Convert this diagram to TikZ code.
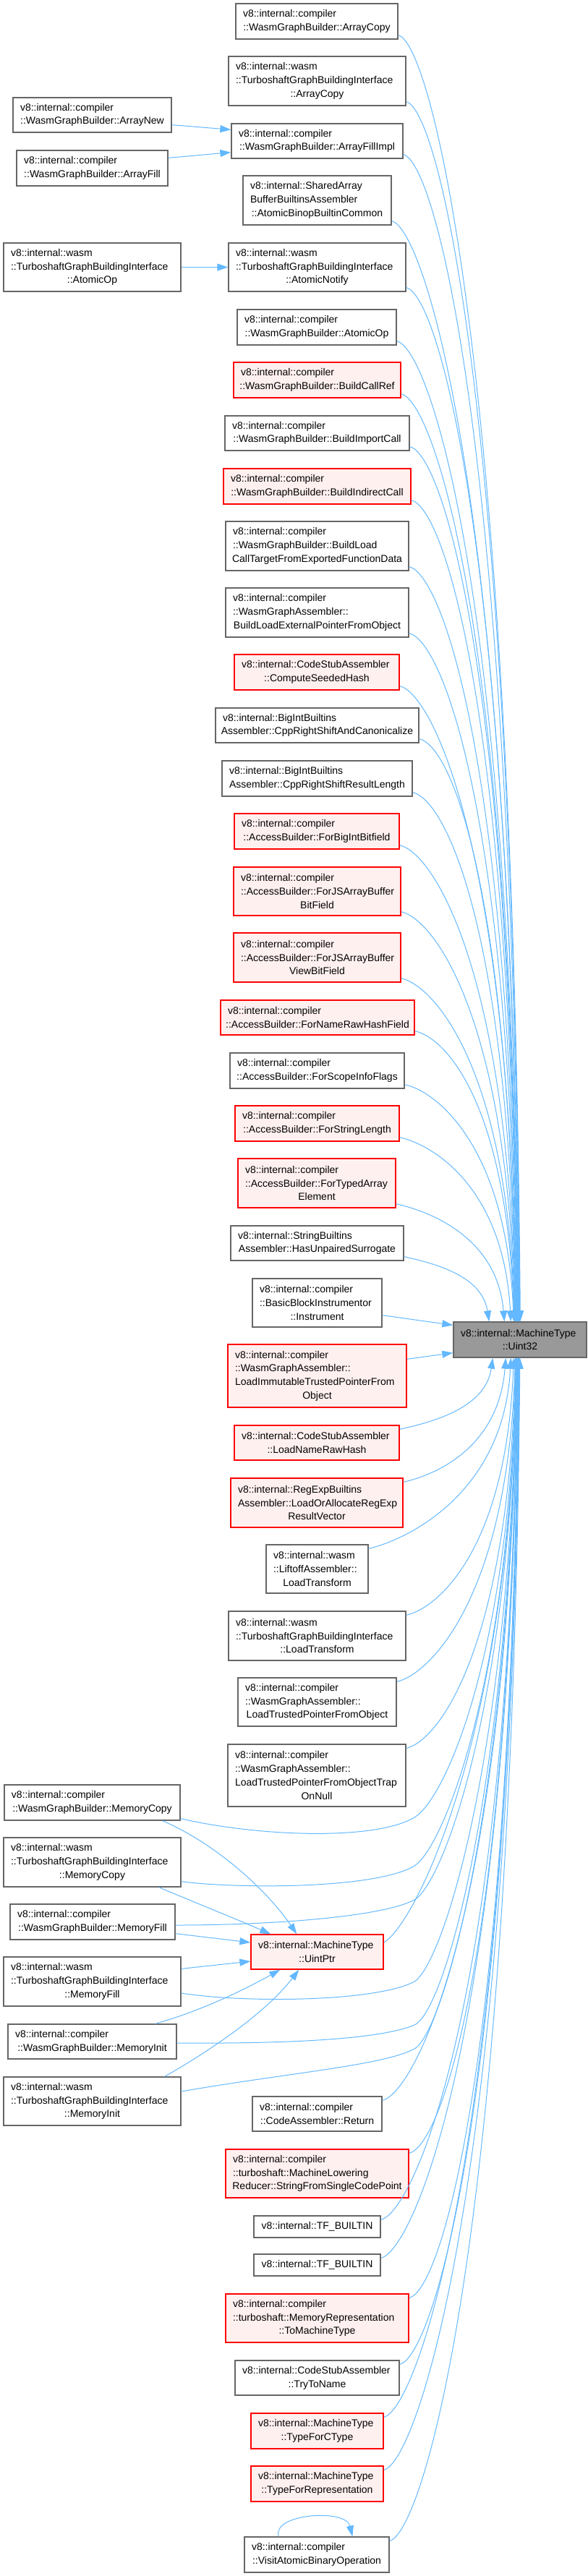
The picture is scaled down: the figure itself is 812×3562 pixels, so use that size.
\documentclass[tikz,border=0pt]{standalone}
\usepackage{fontspec}
\setmainfont{Liberation Sans}
\usetikzlibrary{calc,arrows.meta}

\definecolor{edgeblue}{HTML}{63B8FF}
\definecolor{boxgrey}{HTML}{666666}
\definecolor{rootfill}{HTML}{999999}
\definecolor{redfill}{HTML}{FFF0F0}

\tikzset{
 nbox/.style={draw=boxgrey, fill=white, line width=1.3pt, inner xsep=10pt, inner ysep=1pt,
   align=left, font=\fontsize{14pt}{18.7pt}\selectfont, anchor=center},
 rbox/.style={nbox, draw=red, fill=redfill},
 gbox/.style={nbox, fill=rootfill},
 conn/.style={draw=edgeblue, line width=1pt, -{Triangle[length=15pt,width=10pt]}},
}

\newcommand\lastln[1]{\noindent\makebox[\hsize][c]{#1}}
\newcommand\bx[8]{\node[#1,minimum width=#5pt,text width=#6pt,minimum height=#7pt] (#2) at (#3,#4) {#8};}
\newcommand\eup[2]{\draw[conn] let \p1=(#1.south east), \p2=($(u32.north west)+(#2,0)$) in
  (\x1,\y1+6pt) .. controls (\x1+45pt,\y1-4pt) and (\x2-10pt,{\y1+0.25*(\y2-\y1)}) .. (\x2,\y2);}
\newcommand\edown[2]{\draw[conn] let \p1=(#1.north east), \p2=($(u32.south west)+(#2,0)$) in
  (\x1,\y1-6pt) .. controls (\x1+45pt,\y1+4pt) and (\x2-10pt,{\y1+0.25*(\y2-\y1)}) .. (\x2,\y2);}

\begin{document}
\begin{tikzpicture}[x=1pt,y=-1pt]
\useasboundingbox (0,0) rectangle (812,3562);

\bx{nbox}{n1}{438}{29.5}{224}{204}{49}{v8::internal::compiler\\\lastln{::WasmGraphBuilder::ArrayCopy}}
\bx{nbox}{n2}{438.5}{112}{245}{225}{68}{v8::internal::wasm\\::TurboshaftGraphBuildingInterface\\\lastln{::ArrayCopy}}
\bx{nbox}{n3}{127.5}{159}{219}{199}{48}{v8::internal::compiler\\\lastln{::WasmGraphBuilder::ArrayNew}}
\bx{nbox}{n4}{438.5}{195}{237}{217}{48}{v8::internal::compiler\\\lastln{::WasmGraphBuilder::ArrayFillImpl}}
\bx{nbox}{n5}{127.5}{232.5}{209}{189}{49}{v8::internal::compiler\\\lastln{::WasmGraphBuilder::ArrayFill}}
\bx{nbox}{n6}{438.5}{277}{205}{185}{68}{v8::internal::SharedArray\\BufferBuiltinsAssembler\\\lastln{::AtomicBinopBuiltinCommon}}
\bx{nbox}{n7}{127.5}{369.5}{245}{225}{67}{v8::internal::wasm\\::TurboshaftGraphBuildingInterface\\\lastln{::AtomicOp}}
\bx{nbox}{n8}{438.5}{369.5}{245}{225}{67}{v8::internal::wasm\\::TurboshaftGraphBuildingInterface\\\lastln{::AtomicNotify}}
\bx{nbox}{n9}{438}{452.5}{220}{200}{49}{v8::internal::compiler\\\lastln{::WasmGraphBuilder::AtomicOp}}
\bx{rbox}{n10}{438.5}{525.5}{231}{211}{49}{v8::internal::compiler\\\lastln{::WasmGraphBuilder::BuildCallRef}}
\bx{nbox}{n11}{438.5}{599}{255}{235}{48}{v8::internal::compiler\\\lastln{::WasmGraphBuilder::BuildImportCall}}
\bx{rbox}{n12}{438.5}{672.5}{259}{239}{49}{v8::internal::compiler\\\lastln{::WasmGraphBuilder::BuildIndirectCall}}
\bx{nbox}{n13}{438.5}{755}{253}{233}{68}{v8::internal::compiler\\::WasmGraphBuilder::BuildLoad\\\lastln{CallTargetFromExportedFunctionData}}
\bx{nbox}{n14}{438.5}{847}{253}{233}{68}{v8::internal::compiler\\::WasmGraphAssembler::\\\lastln{BuildLoadExternalPointerFromObject}}
\bx{rbox}{n15}{438}{929.5}{228}{208}{49}{v8::internal::CodeStubAssembler\\\lastln{::ComputeSeededHash}}
\bx{nbox}{n16}{438.5}{1003}{281}{261}{48}{v8::internal::BigIntBuiltins\\\lastln{Assembler::CppRightShiftAndCanonicalize}}
\bx{nbox}{n17}{438.5}{1076.5}{263}{243}{49}{v8::internal::BigIntBuiltins\\\lastln{Assembler::CppRightShiftResultLength}}
\bx{rbox}{n18}{438}{1149.5}{228}{208}{49}{v8::internal::compiler\\\lastln{::AccessBuilder::ForBigIntBitfield}}
\bx{rbox}{n19}{438.5}{1232.5}{231}{211}{67}{v8::internal::compiler\\::AccessBuilder::ForJSArrayBuffer\\\lastln{BitField}}
\bx{rbox}{n20}{438.5}{1324}{231}{211}{68}{v8::internal::compiler\\::AccessBuilder::ForJSArrayBuffer\\\lastln{ViewBitField}}
\bx{rbox}{n21}{439}{1407}{268}{248}{48}{v8::internal::compiler\\\lastln{::AccessBuilder::ForNameRawHashField}}
\bx{nbox}{n22}{438.5}{1480.5}{241}{221}{49}{v8::internal::compiler\\\lastln{::AccessBuilder::ForScopeInfoFlags}}
\bx{rbox}{n23}{438.5}{1553.5}{227}{207}{49}{v8::internal::compiler\\\lastln{::AccessBuilder::ForStringLength}}
\bx{rbox}{n24}{438}{1636}{218}{198}{68}{v8::internal::compiler\\::AccessBuilder::ForTypedArray\\\lastln{Element}}
\bx{nbox}{n25}{438.5}{1719}{239}{219}{48}{v8::internal::StringBuiltins\\\lastln{Assembler::HasUnpairedSurrogate}}
\bx{nbox}{n26}{438.5}{1801.5}{179}{159}{67}{v8::internal::compiler\\::BasicBlockInstrumentor\\\lastln{::Instrument}}
\bx{gbox}{u32}{719}{1852.5}{184}{164}{49}{v8::internal::MachineType\\\lastln{::Uint32}}
\bx{rbox}{n28}{438.5}{1902.5}{247}{227}{87}{v8::internal::compiler\\::WasmGraphAssembler::\\LoadImmutableTrustedPointerFrom\\\lastln{Object}}
\bx{rbox}{n29}{438}{1995}{228}{208}{48}{v8::internal::CodeStubAssembler\\\lastln{::LoadNameRawHash}}
\bx{rbox}{n30}{438}{2078}{238}{218}{68}{v8::internal::RegExpBuiltins\\Assembler::LoadOrAllocateRegExp\\\lastln{ResultVector}}
\bx{nbox}{n31}{438.5}{2169.5}{141}{121}{67}{v8::internal::wasm\\::LiftoffAssembler::\\\lastln{LoadTransform}}
\bx{nbox}{n32}{438.5}{2262}{245}{225}{68}{v8::internal::wasm\\::TurboshaftGraphBuildingInterface\\\lastln{::LoadTransform}}
\bx{nbox}{n33}{438.5}{2353.5}{219}{199}{67}{v8::internal::compiler\\::WasmGraphAssembler::\\\lastln{LoadTrustedPointerFromObject}}
\bx{nbox}{n34}{438}{2455}{246}{226}{86}{v8::internal::compiler\\::WasmGraphAssembler::\\LoadTrustedPointerFromObjectTrap\\\lastln{OnNull}}
\bx{nbox}{n35}{127.5}{2492.5}{243}{223}{49}{v8::internal::compiler\\\lastln{::WasmGraphBuilder::MemoryCopy}}
\bx{nbox}{n36}{127.5}{2575}{245}{225}{68}{v8::internal::wasm\\::TurboshaftGraphBuildingInterface\\\lastln{::MemoryCopy}}
\bx{nbox}{n37}{128}{2657.5}{228}{208}{49}{v8::internal::compiler\\\lastln{::WasmGraphBuilder::MemoryFill}}
\bx{rbox}{n38}{438.5}{2699}{183}{163}{48}{v8::internal::MachineType\\\lastln{::UintPtr}}
\bx{nbox}{n39}{127.5}{2740}{245}{225}{68}{v8::internal::wasm\\::TurboshaftGraphBuildingInterface\\\lastln{::MemoryFill}}
\bx{nbox}{n40}{127.5}{2823}{233}{213}{48}{v8::internal::compiler\\\lastln{::WasmGraphBuilder::MemoryInit}}
\bx{nbox}{n41}{127.5}{2905.5}{245}{225}{67}{v8::internal::wasm\\::TurboshaftGraphBuildingInterface\\\lastln{::MemoryInit}}
\bx{nbox}{n42}{438.5}{2923}{179}{159}{48}{v8::internal::compiler\\\lastln{::CodeAssembler::Return}}
\bx{rbox}{n43}{438.5}{3005.5}{253}{233}{67}{v8::internal::compiler\\::turboshaft::MachineLowering\\\lastln{Reducer::StringFromSingleCodePoint}}
\bx{nbox}{n44}{438.5}{3079}{175}{155}{30}{\lastln{v8::internal::TF\_BUILTIN}}
\bx{nbox}{n45}{438.5}{3132}{175}{155}{30}{\lastln{v8::internal::TF\_BUILTIN}}
\bx{rbox}{n46}{438.5}{3205.5}{253}{233}{67}{v8::internal::compiler\\::turboshaft::MemoryRepresentation\\\lastln{::ToMachineType}}
\bx{nbox}{n47}{438.5}{3288}{227}{207}{48}{v8::internal::CodeStubAssembler\\\lastln{::TryToName}}
\bx{rbox}{n48}{438.5}{3361.5}{183}{163}{49}{v8::internal::MachineType\\\lastln{::TypeForCType}}
\bx{rbox}{n49}{438.5}{3434.5}{183}{163}{49}{v8::internal::MachineType\\\lastln{::TypeForRepresentation}}
\bx{nbox}{n50}{438}{3532.5}{200}{180}{49}{v8::internal::compiler\\\lastln{::VisitAtomicBinaryOperation}}

% left-to-right short edges
\draw[conn] ($(n3.south east)+(0,-11)$) -- ($(n4.north west)+(0,9)$);
\draw[conn] ($(n5.north east)+(0,11)$) -- ($(n4.south west)+(0,-9)$);
\draw[conn] (n7.east) -- (n8.west);

% upper edges into Uint32
\eup{n1}{93} \eup{n2}{92.5} \eup{n4}{92} \eup{n6}{91.5} \eup{n8}{91}
\eup{n9}{90.5} \eup{n10}{90} \eup{n11}{89.5} \eup{n12}{89} \eup{n13}{88.5}
\eup{n14}{88} \eup{n15}{87.5} \eup{n16}{87} \eup{n17}{86.5} \eup{n18}{86}
\eup{n19}{85.5} \eup{n20}{85} \eup{n21}{84.5} \eup{n22}{84} \eup{n23}{80}
\eup{n24}{71} \eup{n25}{50}
\draw[conn] ($(n26.south east)+(0,-17)$) -- ($(u32.north west)+(0,5)$);
\draw[conn] ($(n28.north east)+(0,21)$) -- ($(u32.south west)+(0,-7)$);

% lower edges into Uint32
\edown{n29}{55} \edown{n30}{73} \edown{n31}{80} \edown{n32}{84} \edown{n33}{86}
\edown{n34}{86.5} \edown{n42}{88.5} \edown{n43}{89} \edown{n44}{89.5} \edown{n45}{90}
\edown{n46}{90.5} \edown{n47}{91} \edown{n48}{91.5} \edown{n49}{92} \edown{n50}{92.5}

% left column lower nodes into Uint32
\draw[conn] ($(n35.south east)+(0,-3)$) .. controls (360,2540) and (520,2545) .. (573,2513)
  .. controls (615,2488) and (705,2290) .. ($(u32.south west)+(87,0)$);
\draw[conn] ($(n36.south east)+(0,-8)$) .. controls (330,2612) and (520,2612) .. (573,2580)
  .. controls (612,2556) and (705,2330) .. ($(u32.south west)+(87.5,0)$);
\draw[conn] ($(n37.east)+(0,4.5)$) .. controls (380,2662) and (530,2650) .. (573,2627)
  .. controls (612,2605) and (705,2360) .. ($(u32.south west)+(88,0)$);
\draw[conn] ($(n38.east)+(0,-13)$) .. controls (575,2660) and (705,2400) .. ($(u32.south west)+(88,0)$);
\draw[conn] ($(n39.east)+(0,16)$) .. controls (340,2770) and (520,2768) .. (573,2740)
  .. controls (612,2716) and (705,2430) .. ($(u32.south west)+(88.5,0)$);
\draw[conn] ($(n40.east)+(0,2)$) .. controls (400,2826) and (525,2820) .. (573,2800)
  .. controls (615,2782) and (705,2470) .. ($(u32.south west)+(88.5,0)$);
\draw[conn] ($(n41.east)+(0,-13.5)$) .. controls (400,2866) and (530,2856) .. (573,2833)
  .. controls (612,2812) and (705,2500) .. ($(u32.south west)+(89,0)$);

% left column nodes into UintPtr
\draw[conn] ($(n35.south east)+(-25,0)$) .. controls (300,2550) and (370,2615) .. ($(n38.north west)+(64,0)$);
\draw[conn] ($(n36.south east)+(-31,0)$) .. controls (280,2635) and (330,2655) .. ($(n38.north west)+(28,0)$);
\draw[conn] ($(n37.south east)+(0,-9)$) -- ($(n38.west)+(0,-13)$);
\draw[conn] ($(n39.north east)+(0,17)$) -- ($(n38.west)+(0,13)$);
\draw[conn] ($(n40.north east)+(-30,0)$) .. controls (280,2780) and (340,2750) .. ($(n38.south west)+(41,0)$);
\draw[conn] ($(n41.north east)+(-23,0)$) .. controls (300,2830) and (370,2780) .. ($(n38.south west)+(67,0)$);

% self loop
\draw[conn] ($(n50.north west)+(48,0)$) .. controls (375,3476) and (478,3468) .. ($(n50.north west)+(150,0)$);
\end{tikzpicture}
\end{document}
